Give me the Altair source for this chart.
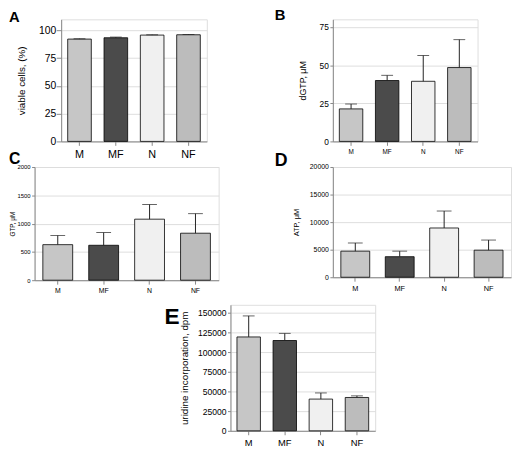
import altair as alt
import pandas as pd

cats = ["M", "MF", "N", "NF"]
colors = ["#c6c6c6", "#4b4b4b", "#f0f0f0", "#bcbcbc"]

viable = [92.2, 93.4, 95.8, 96.1]
viable_err = [0.3, 0.6, 0.3, 0.3]

dgtp = [21.3, 39.9, 39.4, 48.4]
dgtp_err = [3.2, 3.4, 16.9, 18.3]

gtp = [628, 617, 1078, 830]
gtp_err = [162, 224, 259, 346]

atp = [4734, 3728, 8935, 4911]
atp_err = [1479, 1006, 3077, 1835]

uridine = [119178, 114658, 40274, 42329]
uridine_err = [26712, 9042, 7808, 2055]

FONT = "Liberation Sans"


def panel(vals, errs, ytitle, ymax, ticks, letter, w, h, yfs, tfs, xfs,
          lfs, ldx, ldy, cap, tpad, ytick=3, ylpad=1.5):
    df = pd.DataFrame({"cat": cats, "val": vals, "err": errs})
    base = alt.Chart(df).transform_calculate(hi="datum.val + datum.err")
    x = alt.X("cat:N", sort=cats,
              scale=alt.Scale(paddingInner=0.35, paddingOuter=0.18),
              axis=alt.Axis(title=None, labelAngle=0, labelFontSize=xfs,
                            tickSize=4, labelPadding=3))
    ysc = alt.Scale(domain=[0, ymax], nice=False, zero=True)
    yax = alt.Axis(values=ticks, title=ytitle, titleFontSize=tfs,
                   titleFontWeight="normal",
                   labelFontSize=yfs, tickSize=ytick, labelPadding=ylpad,
                   titlePadding=tpad, format="d")
    bars = base.mark_bar(stroke="black", strokeWidth=0.8).encode(
        x=x,
        y=alt.Y("val:Q", scale=ysc, axis=yax),
        color=alt.Color("cat:N", scale=alt.Scale(domain=cats, range=colors),
                        legend=None),
    )
    rules = base.mark_rule(color="#222222", strokeWidth=1).encode(
        x=x, y=alt.Y("val:Q", scale=ysc, axis=yax), y2="hi:Q")
    caps = base.mark_tick(color="#222222", thickness=1, size=cap).encode(
        x=x, y=alt.Y("hi:Q", scale=ysc, axis=yax))
    return alt.layer(bars, rules, caps).properties(
        width=w, height=h,
        title=alt.TitleParams(letter, anchor="start", frame="group",
                              fontSize=lfs, fontWeight="bold", font=FONT,
                              color="black", baseline="alphabetic",
                              offset=0, dx=ldx, dy=ldy),
    )


def spacer():
    return alt.Chart(pd.DataFrame({"s": [0]})).mark_point(
        opacity=0, size=1).encode(x=alt.value(0), y=alt.value(0)).properties(
        width=1, height=1, view=alt.ViewBackground(stroke=None))


A = panel(viable, viable_err, "viable cells, (%)", 110, [0, 25, 50, 75, 100],
          "A", 148, 124, 10.5, 10, 11, 15, -53, 18, 12, 12, ytick=5, ylpad=0.5)
B = panel(dgtp, dgtp_err, "dGTP, μM", 80, [0, 25, 50, 75],
          "B", 147, 124, 8.5, 9, 6.5, 15, -59, 16, 12, 12)
C = panel(gtp, gtp_err, "GTP, μM", 2000, [0, 500, 1000, 1500, 2000],
          "C", 187, 115, 6, 6.5, 7, 16, -26, 16, 15, 2)
D = panel(atp, atp_err, "ATP, μM", 20000, [0, 5000, 10000, 15000, 20000],
          "D", 181, 112, 7, 7.5, 7.5, 18, -59, 21, 15, 9)
E = panel(uridine, uridine_err, "uridine incorporation, dpm", 160000,
          [0, 25000, 50000, 75000, 100000, 125000, 150000],
          "E", 147, 128, 8.7, 10, 9.5, 23, -67, 43, 12, 8)

row1 = alt.hconcat(spacer(), alt.hconcat(A, B, spacing=128, bounds="flush"),
                   spacing=26, bounds="flush")
row2 = alt.hconcat(C, D, spacing=116, bounds="flush")
row3 = alt.hconcat(spacer(), E, spacing=198, bounds="flush")

chart = alt.vconcat(row1, alt.vconcat(row2, row3, spacing=9), spacing=-10).properties(
    padding={"top": -4, "left": 0, "right": 0, "bottom": 0}
).configure_view(stroke="#777777", strokeWidth=1.5).configure_axis(
    labelFont=FONT, titleFont=FONT, labelColor="black", titleColor="black",
    domainColor="black", tickColor="black", domainWidth=1, tickWidth=1,
    grid=False, titleFontWeight="normal"
).configure(background="white")

chart.save("out.html", embed_options={"renderer": "svg", "actions": False})
